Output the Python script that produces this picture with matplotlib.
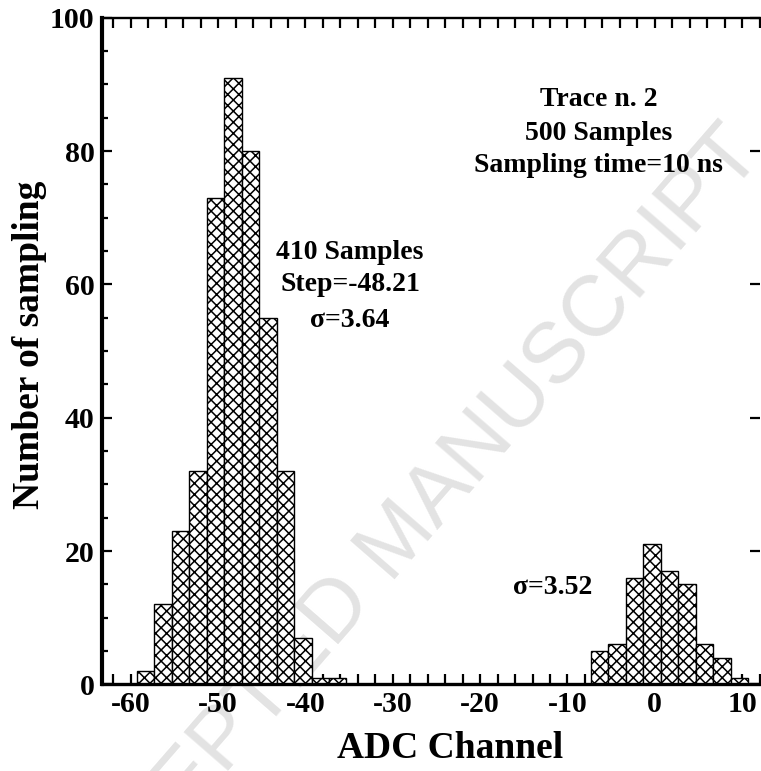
import matplotlib
matplotlib.use("Agg")
import matplotlib.pyplot as plt
from matplotlib.ticker import MultipleLocator

plt.rcParams['font.family'] = 'Liberation Serif'
plt.rcParams['font.weight'] = 'bold'
plt.rcParams['axes.unicode_minus'] = False
plt.rcParams['hatch.linewidth'] = 1.1

# histogram bins (width 2 ADC channels)
step_centers = [-58.3, -56.3, -54.3, -52.3, -50.3, -48.3, -46.3, -44.3, -42.3, -40.3, -38.3, -36.3]
step_counts = [2, 12, 23, 32, 73, 91, 80, 55, 32, 7, 1, 1]
base_centers = [-6.3, -4.3, -2.3, -0.3, 1.7, 3.7, 5.7, 7.7, 9.7]
base_counts = [5, 6, 16, 21, 17, 15, 6, 4, 1]
bin_width = 2

x_ticks = [-60, -50, -40, -30, -20, -10, 0, 10]
y_ticks = [0, 20, 40, 60, 80, 100]

fig = plt.figure(figsize=(7.61, 7.71), dpi=100)
ax = fig.add_axes([0.1334, 0.1122, 0.8653, 0.8647])
ax.patch.set_alpha(0)

for centers, counts in [(step_centers, step_counts), (base_centers, base_counts)]:
    ax.bar(centers, counts, width=bin_width, color='white', edgecolor='black',
           linewidth=1.0, hatch='xxx', zorder=2)

ax.set_xlim(-63.35, 12.05)
ax.set_ylim(0, 100)
ax.set_xticks(x_ticks)
ax.set_yticks(y_ticks)
ax.xaxis.set_minor_locator(MultipleLocator(2))
ax.yaxis.set_minor_locator(MultipleLocator(5))

ax.spines['right'].set_visible(False)
ax.spines['left'].set_linewidth(3.0)
ax.spines['bottom'].set_linewidth(2.4)
ax.spines['top'].set_linewidth(1.7)

ax.tick_params(axis='x', which='both', direction='in', top=True, length=7, width=1.6,
               labelsize=21.5, pad=5)
ax.tick_params(axis='y', which='major', direction='in', left=True, right=True, length=7,
               width=1.6, labelsize=21.5, pad=5)
ax.tick_params(axis='y', which='minor', direction='in', left=True, right=False, length=4,
               width=1.6)

ax.set_xlabel('ADC Channel', fontsize=27, fontweight='bold')
ax.set_ylabel('Number of sampling', fontsize=27, fontweight='bold')
ax.xaxis.set_label_coords(0.53, -0.07)
ax.yaxis.set_label_coords(-0.083, 0.51)

ax.text(-6.4, 86.8, 'Trace n. 2', fontsize=20, ha='center', va='baseline')
ax.text(-6.4, 81.7, '500 Samples', fontsize=20, ha='center', va='baseline')
ax.text(-6.4, 76.9, 'Sampling time=10 ns', fontsize=20, ha='center', va='baseline')
ax.text(-34.9, 63.8, '410 Samples', fontsize=20, ha='center', va='baseline')
ax.text(-34.9, 59.0, 'Step=-48.21', fontsize=20, ha='center', va='baseline')
ax.text(-34.9, 53.6, 'σ=3.64', fontsize=20, ha='center', va='baseline')
ax.text(-11.7, 13.6, 'σ=3.52', fontsize=20, ha='center', va='baseline')

# faint watermark, behind the bars
fig.text(748 / 761, 1 - 140 / 771, 'ACCEPTED MANUSCRIPT', fontsize=62, family='Liberation Sans',
         fontweight='normal', color='#e3e3e3', rotation=49, rotation_mode='anchor',
         ha='right', va='center', zorder=-1)

fig.savefig('out.png', dpi=100)
